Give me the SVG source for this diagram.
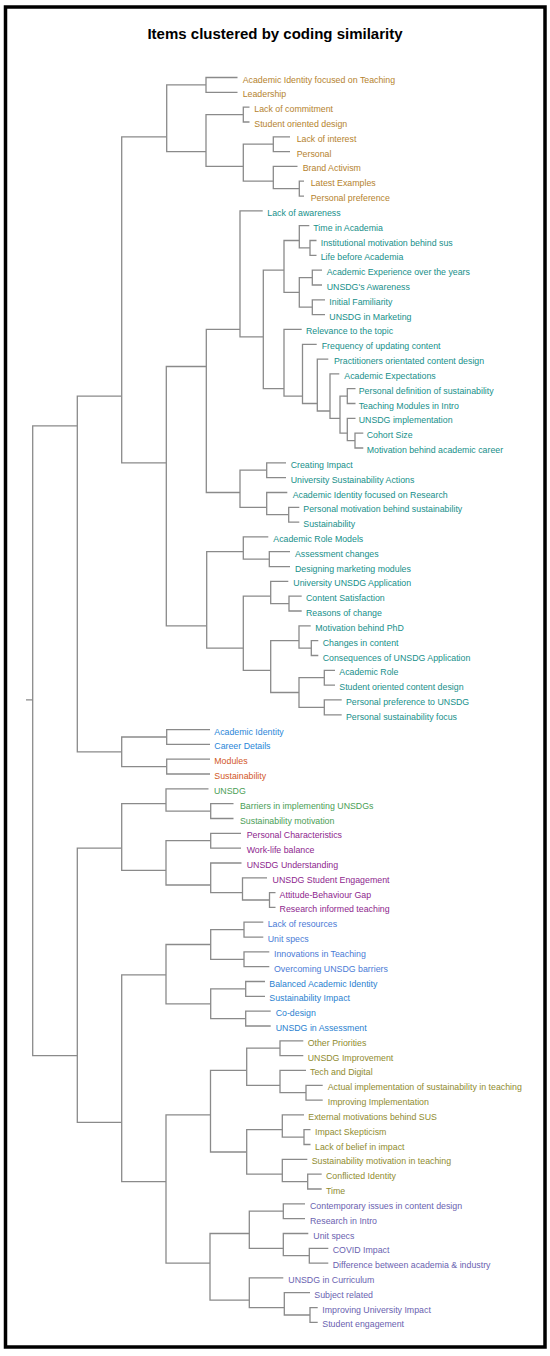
<svg xmlns="http://www.w3.org/2000/svg" width="550" height="1356" viewBox="0 0 550 1356">
<style>
text{font-family:"Liberation Sans",Arial,sans-serif;font-size:8.8px}
.title{font-size:15px;font-weight:bold;fill:#000}
.c{fill:none;stroke:#8a8a8a;stroke-width:1.3}
.br{fill:#b5832e}.te{fill:#168f8a}.bl{fill:#2a86d8}.or{fill:#d2571f}.gr{fill:#4a9e56}.pu{fill:#8e1f8e}.b2{fill:#4a7bd6}.b3{fill:#2a7fd0}.ol{fill:#8f8b2f}.sl{fill:#6a62b0}
</style>
<rect x="0" y="0" width="550" height="1356" fill="#fff"/>
<rect x="5.5" y="7" width="539.5" height="1340" fill="none" stroke="#000" stroke-width="3.5"/>
<text class="title" x="275" y="38.5" text-anchor="middle">Items clustered by coding similarity</text>
<g id="connectors" class="c">
<path d="M26 699.9 H32.7 M77.3 425.8 H32.7 V1055.6 H77.3"/>
<path d="M121.7 396.1 H77.3 V751.8 H121.7"/>
<path d="M166.7 136.8 H121.7 V462.8 H166.3"/>
<path d="M206 84.9 H166.7 V151.6 H206"/>
<path d="M237.5 77.5 H206 V92.3 H237.5"/>
<path d="M243.3 114.6 H206 V166.4 H243.3"/>
<path d="M249.5 107.1 H243.3 V122 H249.5"/>
<path d="M273.3 144.2 H243.3 V181.2 H273.3"/>
<path d="M290 136.8 H273.3 V151.6 H290"/>
<path d="M297.5 166.4 H273.3 V188.7 H299.3"/>
<path d="M304 181.2 H299.3 V196.1 H304"/>
<path d="M206.3 366.5 H166.3 V625.8 H206.7"/>
<path d="M240 329.4 H206.3 V492.5 H240"/>
<path d="M262.7 210.9 H240 V336.9 H263.3"/>
<path d="M284 270.2 H263.3 V388.7 H284"/>
<path d="M299.3 240.5 H284 V292.4 H299.3"/>
<path d="M309.3 225.7 H299.3 V247.9 H310"/>
<path d="M316.5 240.5 H310 V255.3 H316.5"/>
<path d="M312.3 277.6 H299.3 V307.2 H312.3"/>
<path d="M322 270.2 H312.3 V285 H322"/>
<path d="M325 299.8 H312.3 V314.6 H325"/>
<path d="M301.7 329.4 H284 V396.1 H302.5"/>
<path d="M316.7 344.3 H302.5 V403.5 H317.3"/>
<path d="M328.3 359.1 H317.3 V411 H330"/>
<path d="M339.3 373.9 H330 V418.4 H340"/>
<path d="M347.3 396.1 H340 V433.2 H347.3"/>
<path d="M355.5 388.7 H347.3 V403.5 H355.5"/>
<path d="M355.5 418.4 H347.3 V440.6 H355"/>
<path d="M363.3 433.2 H355 V448 H363.3"/>
<path d="M266.7 470.2 H240 V507.3 H266.7"/>
<path d="M286 462.8 H266.7 V477.6 H286"/>
<path d="M287.3 492.5 H266.7 V514.7 H288.7"/>
<path d="M299.3 507.3 H288.7 V522.1 H299.3"/>
<path d="M243.3 551.7 H206.7 V648.1 H243.3"/>
<path d="M268.3 536.9 H243.3 V559.2 H269.3"/>
<path d="M290 551.7 H269.3 V566.6 H290"/>
<path d="M270.7 596.2 H243.3 V670.3 H270.7"/>
<path d="M288.3 581.4 H270.7 V603.6 H289"/>
<path d="M301.7 596.2 H289 V611 H301.7"/>
<path d="M299 640.7 H270.7 V692.5 H299"/>
<path d="M310.7 625.8 H299 V648.1 H311.3"/>
<path d="M318.3 640.7 H311.3 V655.5 H318.3"/>
<path d="M324.3 677.7 H299 V707.4 H324.3"/>
<path d="M335 670.3 H324.3 V685.1 H335"/>
<path d="M341.7 699.9 H324.3 V714.8 H341.7"/>
<path d="M166.7 737 H121.7 V766.6 H166.7"/>
<path d="M210 729.6 H166.7 V744.4 H210"/>
<path d="M210 759.2 H166.7 V774 H210"/>
<path d="M121.7 848.1 H77.3 V1122.3 H121.7"/>
<path d="M166 803.7 H121.7 V870.4 H166"/>
<path d="M208.5 788.9 H166 V811.1 H210.7"/>
<path d="M233.5 803.7 H210.7 V818.5 H233.5"/>
<path d="M210.7 840.7 H166 V885 H210.7"/>
<path d="M241 833.3 H210.7 V848.1 H241"/>
<path d="M241.5 863 H210.7 V892.6 H242.5"/>
<path d="M267 877.8 H242.5 V900 H269.5"/>
<path d="M275.5 892.6 H269.5 V907.4 H275.5"/>
<path d="M166 974.8 H121.7 V1181.6 H166"/>
<path d="M210.7 944.5 H166 V1003.8 H210.7"/>
<path d="M244 929.7 H210.7 V959.3 H244"/>
<path d="M263.3 922.2 H244 V937.1 H263.3"/>
<path d="M269.3 951.9 H244 V966.7 H269.3"/>
<path d="M245.7 988.9 H210.7 V1018.6 H245.7"/>
<path d="M265 981.5 H245.7 V996.3 H265"/>
<path d="M270.7 1011.2 H245.7 V1026 H270.7"/>
<path d="M210.5 1114.9 H166 V1263.1 H210"/>
<path d="M246.7 1070.4 H210.5 V1152 H246.7"/>
<path d="M280 1048.2 H246.7 V1085.3 H280"/>
<path d="M303.3 1040.8 H280 V1055.6 H303.3"/>
<path d="M306 1070.4 H280 V1092.7 H306"/>
<path d="M322.7 1085.3 H306 V1100.1 H322.7"/>
<path d="M282.3 1129.7 H246.7 V1174.2 H282.3"/>
<path d="M304 1114.9 H282.3 V1137.1 H304"/>
<path d="M310.5 1129.7 H304 V1144.5 H310.5"/>
<path d="M307.3 1159.4 H282.3 V1181.6 H307.7"/>
<path d="M321.7 1174.2 H307.7 V1189 H321.7"/>
<path d="M249.3 1233.5 H210 V1300.2 H249.3"/>
<path d="M283.3 1211.2 H249.3 V1248.3 H283.3"/>
<path d="M305 1203.8 H283.3 V1218.6 H305"/>
<path d="M308.3 1233.5 H283.3 V1255.7 H309.3"/>
<path d="M328.3 1248.3 H309.3 V1263.1 H328.3"/>
<path d="M283.3 1277.9 H249.3 V1307.6 H284.3"/>
<path d="M310 1292.7 H284.3 V1315 H310"/>
<path d="M317.7 1307.6 H310 V1322.4 H317.7"/>
</g>
<g id="leaf-1"><text class="br" x="242.7" y="82.5">Academic Identity focused on Teaching</text></g>
<g id="leaf-2"><text class="br" x="242.7" y="97.3">Leadership</text></g>
<g id="leaf-3"><text class="br" x="254.3" y="112.1">Lack of commitment</text></g>
<g id="leaf-4"><text class="br" x="254.3" y="127">Student oriented design</text></g>
<g id="leaf-5"><text class="br" x="296.7" y="141.8">Lack of interest</text></g>
<g id="leaf-6"><text class="br" x="296.7" y="156.6">Personal</text></g>
<g id="leaf-7"><text class="br" x="302.7" y="171.4">Brand Activism</text></g>
<g id="leaf-8"><text class="br" x="310.7" y="186.2">Latest Examples</text></g>
<g id="leaf-9"><text class="br" x="310.7" y="201.1">Personal preference</text></g>
<g id="leaf-10"><text class="te" x="267.3" y="215.9">Lack of awareness</text></g>
<g id="leaf-11"><text class="te" x="313.3" y="230.7">Time in Academia</text></g>
<g id="leaf-12"><text class="te" x="320.7" y="245.5">Institutional motivation behind sus</text></g>
<g id="leaf-13"><text class="te" x="320.7" y="260.3">Life before Academia</text></g>
<g id="leaf-14"><text class="te" x="326.7" y="275.2">Academic Experience over the years</text></g>
<g id="leaf-15"><text class="te" x="326.7" y="290">UNSDG's Awareness</text></g>
<g id="leaf-16"><text class="te" x="329.3" y="304.8">Initial Familiarity</text></g>
<g id="leaf-17"><text class="te" x="329.3" y="319.6">UNSDG in Marketing</text></g>
<g id="leaf-18"><text class="te" x="306" y="334.4">Relevance to the topic</text></g>
<g id="leaf-19"><text class="te" x="321.7" y="349.3">Frequency of updating content</text></g>
<g id="leaf-20"><text class="te" x="334" y="364.1">Practitioners orientated content design</text></g>
<g id="leaf-21"><text class="te" x="344.3" y="378.9">Academic Expectations</text></g>
<g id="leaf-22"><text class="te" x="358.7" y="393.7">Personal definition of sustainability</text></g>
<g id="leaf-23"><text class="te" x="358.7" y="408.5">Teaching Modules in Intro</text></g>
<g id="leaf-24"><text class="te" x="358.7" y="423.4">UNSDG implementation</text></g>
<g id="leaf-25"><text class="te" x="366.7" y="438.2">Cohort Size</text></g>
<g id="leaf-26"><text class="te" x="366.7" y="453">Motivation behind academic career</text></g>
<g id="leaf-27"><text class="te" x="290.7" y="467.8">Creating Impact</text></g>
<g id="leaf-28"><text class="te" x="290.7" y="482.6">University Sustainability Actions</text></g>
<g id="leaf-29"><text class="te" x="292.7" y="497.5">Academic Identity focused on Research</text></g>
<g id="leaf-30"><text class="te" x="303.3" y="512.3">Personal motivation behind sustainability</text></g>
<g id="leaf-31"><text class="te" x="303.3" y="527.1">Sustainability</text></g>
<g id="leaf-32"><text class="te" x="273.3" y="541.9">Academic Role Models</text></g>
<g id="leaf-33"><text class="te" x="295" y="556.7">Assessment changes</text></g>
<g id="leaf-34"><text class="te" x="295" y="571.6">Designing marketing modules</text></g>
<g id="leaf-35"><text class="te" x="293.3" y="586.4">University UNSDG Application</text></g>
<g id="leaf-36"><text class="te" x="306" y="601.2">Content Satisfaction</text></g>
<g id="leaf-37"><text class="te" x="306" y="616">Reasons of change</text></g>
<g id="leaf-38"><text class="te" x="315.3" y="630.8">Motivation behind PhD</text></g>
<g id="leaf-39"><text class="te" x="322.7" y="645.7">Changes in content</text></g>
<g id="leaf-40"><text class="te" x="322.7" y="660.5">Consequences of UNSDG Application</text></g>
<g id="leaf-41"><text class="te" x="339.3" y="675.3">Academic Role</text></g>
<g id="leaf-42"><text class="te" x="339.3" y="690.1">Student oriented content design</text></g>
<g id="leaf-43"><text class="te" x="346" y="704.9">Personal preference to UNSDG</text></g>
<g id="leaf-44"><text class="te" x="346" y="719.8">Personal sustainability focus</text></g>
<g id="leaf-45"><text class="bl" x="214.3" y="734.6">Academic Identity</text></g>
<g id="leaf-46"><text class="bl" x="214.3" y="749.4">Career Details</text></g>
<g id="leaf-47"><text class="or" x="214.3" y="764.2">Modules</text></g>
<g id="leaf-48"><text class="or" x="214.3" y="779">Sustainability</text></g>
<g id="leaf-49"><text class="gr" x="214" y="793.9">UNSDG</text></g>
<g id="leaf-50"><text class="gr" x="240" y="808.7">Barriers in implementing UNSDGs</text></g>
<g id="leaf-51"><text class="gr" x="240" y="823.5">Sustainability motivation</text></g>
<g id="leaf-52"><text class="pu" x="246.7" y="838.3">Personal Characteristics</text></g>
<g id="leaf-53"><text class="pu" x="246.7" y="853.1">Work-life balance</text></g>
<g id="leaf-54"><text class="pu" x="246.7" y="868">UNSDG Understanding</text></g>
<g id="leaf-55"><text class="pu" x="272.6" y="882.8">UNSDG Student Engagement</text></g>
<g id="leaf-56"><text class="pu" x="279.6" y="897.6">Attitude-Behaviour Gap</text></g>
<g id="leaf-57"><text class="pu" x="279.6" y="912.4">Research informed teaching</text></g>
<g id="leaf-58"><text class="b2" x="267.7" y="927.2">Lack of resources</text></g>
<g id="leaf-59"><text class="b2" x="267.7" y="942.1">Unit specs</text></g>
<g id="leaf-60"><text class="b2" x="274" y="956.9">Innovations in Teaching</text></g>
<g id="leaf-61"><text class="b2" x="274" y="971.7">Overcoming UNSDG barriers</text></g>
<g id="leaf-62"><text class="b3" x="269.3" y="986.5">Balanced Academic Identity</text></g>
<g id="leaf-63"><text class="b3" x="269.3" y="1001.3">Sustainability Impact</text></g>
<g id="leaf-64"><text class="b3" x="275.7" y="1016.2">Co-design</text></g>
<g id="leaf-65"><text class="b3" x="275.7" y="1031">UNSDG in Assessment</text></g>
<g id="leaf-66"><text class="ol" x="307.7" y="1045.8">Other Priorities</text></g>
<g id="leaf-67"><text class="ol" x="307.7" y="1060.6">UNSDG Improvement</text></g>
<g id="leaf-68"><text class="ol" x="310" y="1075.4">Tech and Digital</text></g>
<g id="leaf-69"><text class="ol" x="327.7" y="1090.3">Actual implementation of sustainability in teaching</text></g>
<g id="leaf-70"><text class="ol" x="327.7" y="1105.1">Improving Implementation</text></g>
<g id="leaf-71"><text class="ol" x="308.3" y="1119.9">External motivations behind SUS</text></g>
<g id="leaf-72"><text class="ol" x="315" y="1134.7">Impact Skepticism</text></g>
<g id="leaf-73"><text class="ol" x="315" y="1149.5">Lack of belief in impact</text></g>
<g id="leaf-74"><text class="ol" x="311.7" y="1164.4">Sustainability motivation in teaching</text></g>
<g id="leaf-75"><text class="ol" x="326" y="1179.2">Conflicted Identity</text></g>
<g id="leaf-76"><text class="ol" x="326" y="1194">Time</text></g>
<g id="leaf-77"><text class="sl" x="310" y="1208.8">Contemporary issues in content design</text></g>
<g id="leaf-78"><text class="sl" x="310" y="1223.6">Research in Intro</text></g>
<g id="leaf-79"><text class="sl" x="313.3" y="1238.5">Unit specs</text></g>
<g id="leaf-80"><text class="sl" x="332.7" y="1253.3">COVID Impact</text></g>
<g id="leaf-81"><text class="sl" x="332.7" y="1268.1">Difference between academia &amp; industry</text></g>
<g id="leaf-82"><text class="sl" x="288.3" y="1282.9">UNSDG in Curriculum</text></g>
<g id="leaf-83"><text class="sl" x="314.3" y="1297.7">Subject related</text></g>
<g id="leaf-84"><text class="sl" x="322.3" y="1312.6">Improving University Impact</text></g>
<g id="leaf-85"><text class="sl" x="322.3" y="1327.4">Student engagement</text></g>
</svg>
